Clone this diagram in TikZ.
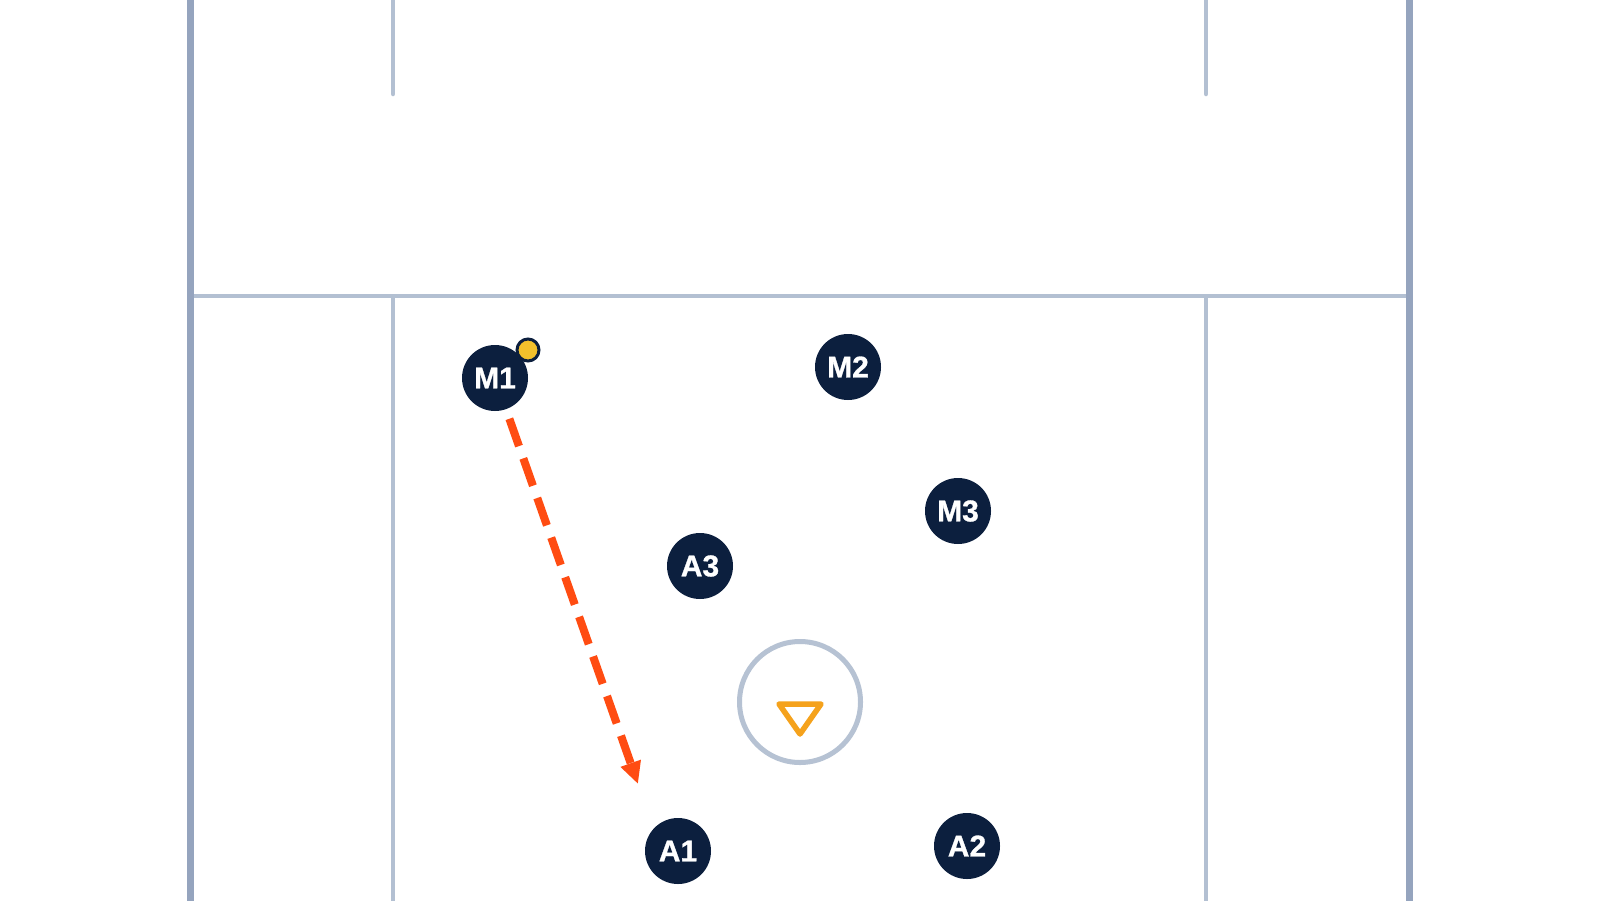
\documentclass[tikz,border=0pt]{standalone}
\usepackage{fontspec}
\setmainfont{Liberation Sans}
\newfontfamily\playerfont[FakeBold=1]{Liberation Sans Bold}
\usetikzlibrary{arrows.meta}
\definecolor{navy}{HTML}{0C1F3E}
\definecolor{outerline}{HTML}{95A4BE}
\definecolor{innerline}{HTML}{B3C0D2}
\definecolor{goalline}{HTML}{B6C2D3}
\definecolor{ballc}{HTML}{F3C12C}
\definecolor{runc}{HTML}{FF4C12}
\definecolor{creasec}{HTML}{F5A21C}
\begin{document}
\begin{tikzpicture}[x=1pt,y=-1pt,
  outer/.style={draw=outerline,line width=7pt},
  inner/.style={draw=innerline,line width=4.5pt,line cap=round},
  player/.style={circle,fill=navy,minimum size=66pt,inner sep=0pt,text=white,font=\fontsize{30}{30}\playerfont},
  ballnode/.style={circle,fill=ballc,draw=navy,line width=3pt,minimum size=22pt,inner sep=0pt},
  goalnode/.style={circle,draw=goalline,line width=5pt,minimum size=121pt,inner sep=0pt},
  crease/.style={draw=creasec,line width=5.5pt,line join=round},
  run/.style={draw=runc,line width=8pt,dash pattern=on 29pt off 13pt,-{Triangle[length=22pt,width=20pt]}}]
\useasboundingbox (0,0) rectangle (1600,900);
\fill[white] (0,0) rectangle (1600,900);
% field lines
\draw[inner] (393,-10) -- (393,94);
\draw[inner] (1206,-10) -- (1206,94);
\draw[inner,line cap=butt] (190,296) -- (1409,296);
\draw[inner,line cap=butt] (393,296) -- (393,910);
\draw[inner,line cap=butt] (1206,296) -- (1206,910);
\draw[outer] (190,-10) -- (190,910);
\draw[outer] (1409,-10) -- (1409,910);
% goal
\node[goalnode] (goal) at (800,702) {};
\draw[crease] (779,704) -- (821,704) -- (800,734) -- cycle;
% players
\node[player] (M1) at (495,378) {M1};
\node[player] (M2) at (848,367) {M2};
\node[player] (M3) at (958,511) {M3};
\node[player] (A3) at (700,566) {A3};
\node[player] (A1) at (678,851) {A1};
\node[player] (A2) at (967,846) {A2};
\node[ballnode] (ball) at (528,350) {};
% run
\coordinate (tgt) at (638,784);
\draw[run,shorten <=10pt] (M1) -- (tgt);
\end{tikzpicture}
\end{document}
